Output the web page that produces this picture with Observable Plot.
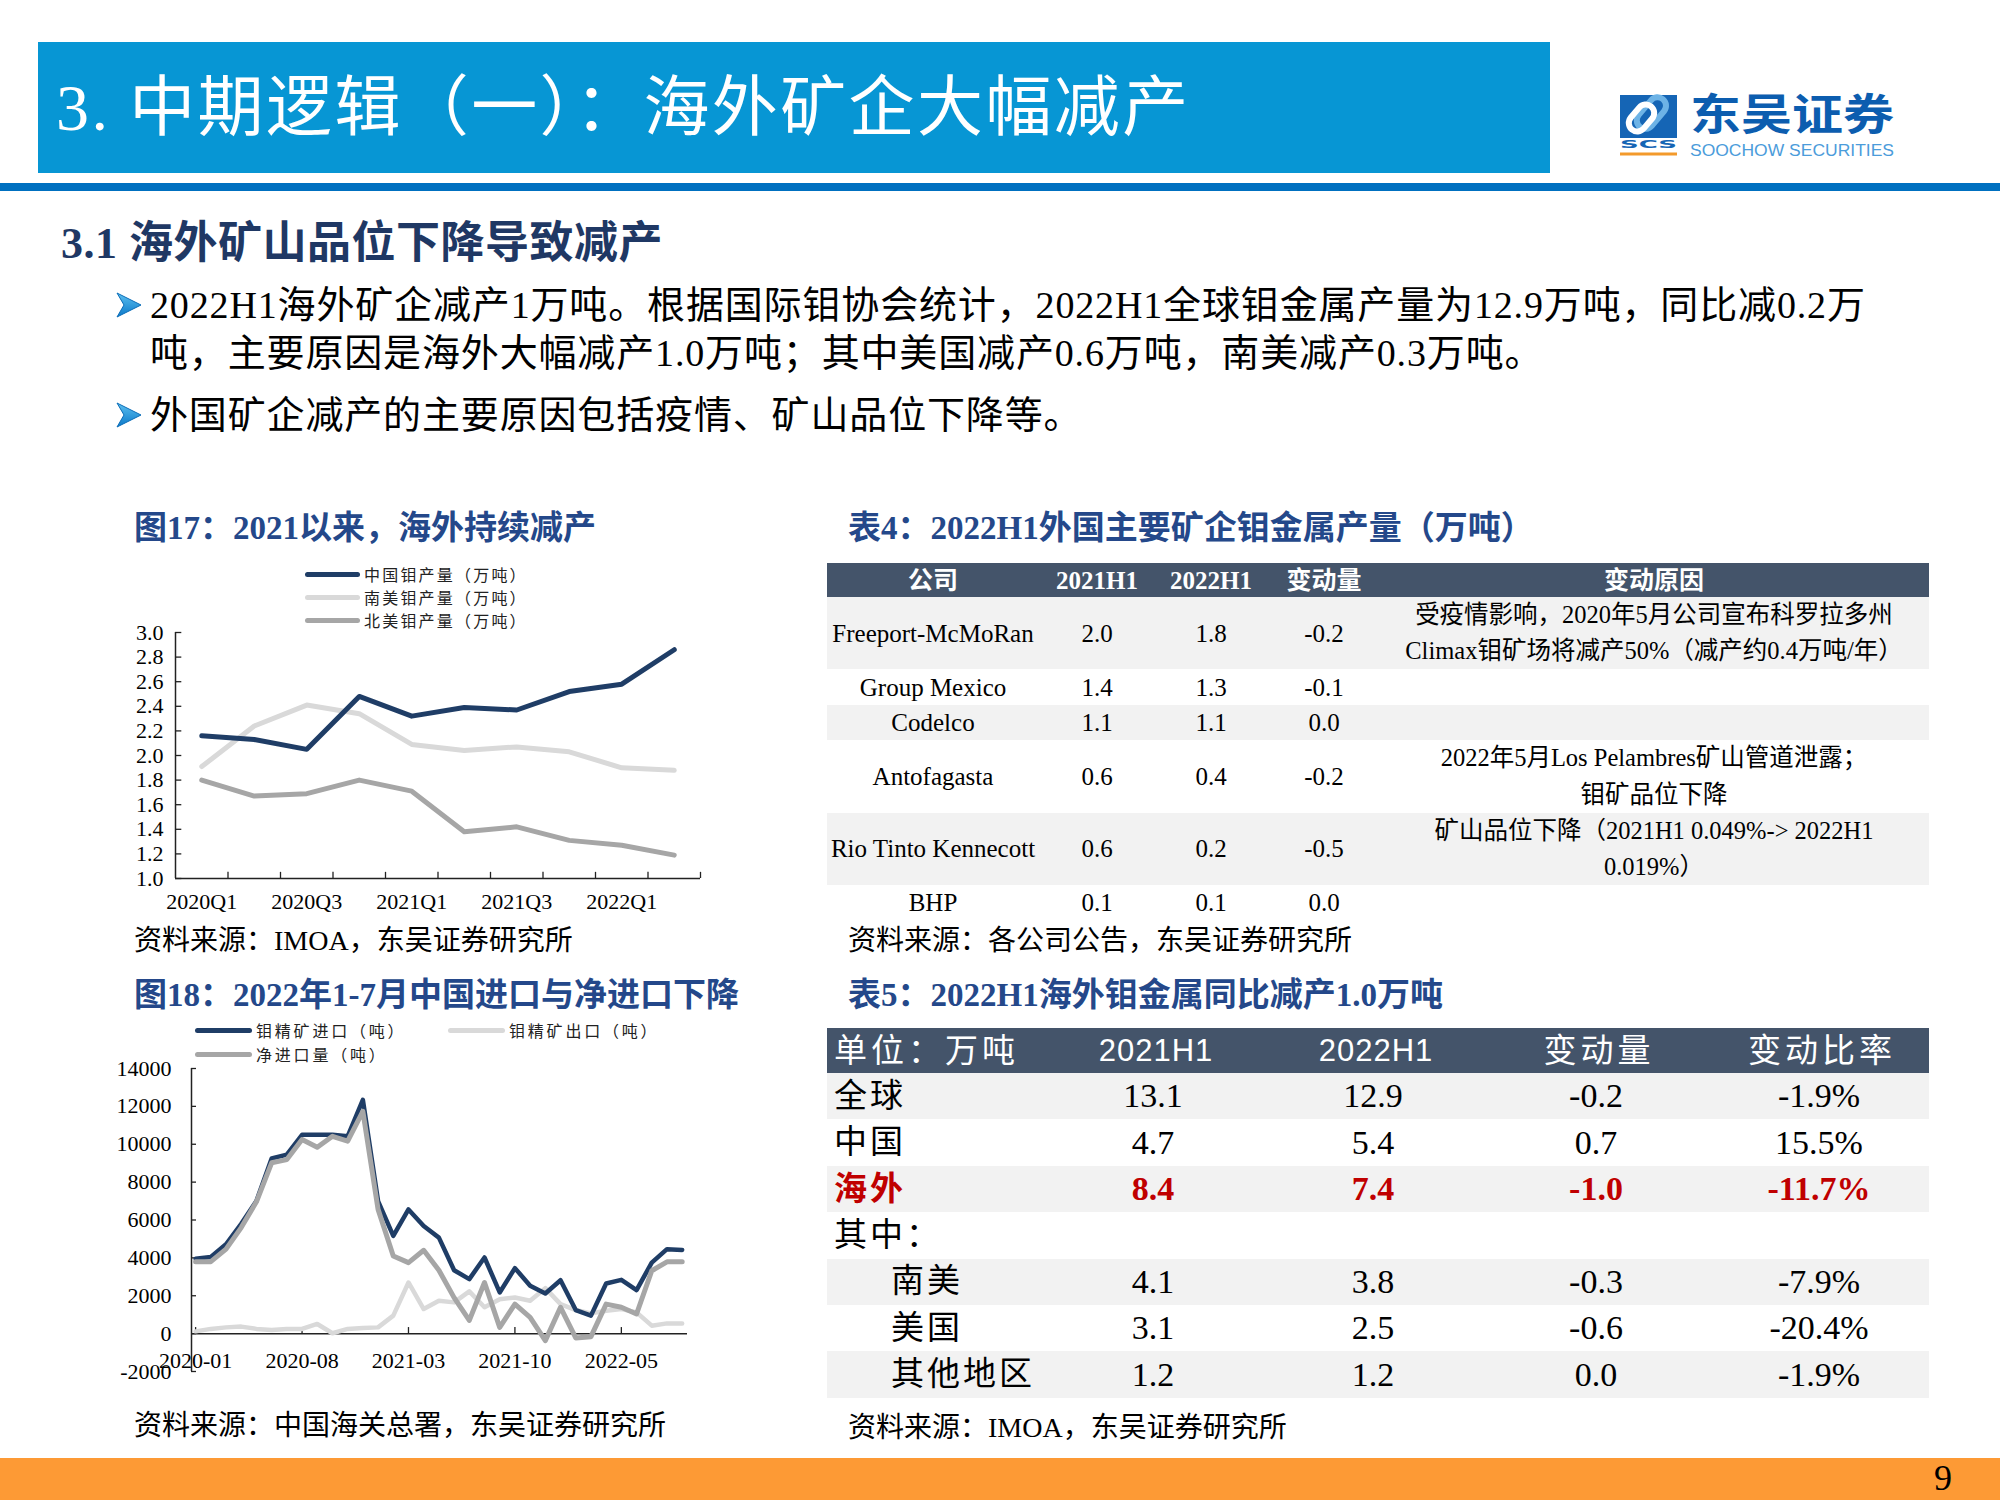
<!DOCTYPE html>
<html><head><meta charset="utf-8">
<script src="https://cdn.jsdelivr.net/npm/d3@7"></script>
<script src="https://cdn.jsdelivr.net/npm/@observablehq/plot@0.6"></script>
<style>
html,body{margin:0;padding:0;background:#fff;}
#page{position:relative;width:2000px;height:1500px;overflow:hidden;background:#fff;font-family:"Liberation Serif","Noto Sans CJK SC",serif;color:#000;}
.abs{position:absolute;white-space:nowrap;}
</style></head><body><div id="page"></div>
<script>
// ---------------- DATA ----------------
const pageTitle = "3. 中期逻辑（一）：海外矿企大幅减产";
const sectionTitle = "3.1 海外矿山品位下降导致减产";
const bulletLines = [
  ["2022H1海外矿企减产1万吨。根据国际钼协会统计，2022H1全球钼金属产量为12.9万吨，同比减0.2万", "吨，主要原因是海外大幅减产1.0万吨；其中美国减产0.6万吨，南美减产0.3万吨。"],
  ["外国矿企减产的主要原因包括疫情、矿山品位下降等。"]
];

// Chart 1
const c1Title = "图17：2021以来，海外持续减产";
const c1Source = "资料来源：IMOA，东吴证券研究所";
const quarters = ["2020Q1","2020Q2","2020Q3","2020Q4","2021Q1","2021Q2","2021Q3","2021Q4","2022Q1","2022Q2"];
const quarterLabelIdx = [0,2,4,6,8];
const c1Series = ["中国钼产量（万吨）","南美钼产量（万吨）","北美钼产量（万吨）"];
const chinaMo   = [2.16,2.13,2.05,2.48,2.32,2.39,2.37,2.52,2.58,2.86];
const southAmMo = [1.91,2.24,2.41,2.34,2.09,2.04,2.07,2.03,1.90,1.88];
const northAmMo = [1.80,1.67,1.69,1.80,1.71,1.38,1.42,1.31,1.27,1.19];
const c1YTicks = [1.0,1.2,1.4,1.6,1.8,2.0,2.2,2.4,2.6,2.8,3.0];

// Chart 2
const c2Title = "图18：2022年1-7月中国进口与净进口下降";
const c2Source = "资料来源：中国海关总署，东吴证券研究所";
const months = ["2020-01","2020-02","2020-03","2020-04","2020-05","2020-06","2020-07","2020-08","2020-09","2020-10","2020-11","2020-12",
  "2021-01","2021-02","2021-03","2021-04","2021-05","2021-06","2021-07","2021-08","2021-09","2021-10","2021-11","2021-12",
  "2022-01","2022-02","2022-03","2022-04","2022-05","2022-06","2022-07","2022-08","2022-09"];
const monthLabelIdx = [0,7,14,21,28];
const c2Series = ["钼精矿进口（吨）","钼精矿出口（吨）","净进口量（吨）"];
const moImport = [3950,4050,4720,5800,7000,9250,9450,10500,10500,10500,10420,12350,7000,5160,6560,5680,5070,3350,2880,4020,2175,3460,2530,2120,2820,1245,950,2650,2840,2300,3750,4460,4420];
const moExport = [120,250,330,370,250,190,250,250,510,20,250,300,330,950,2700,1300,1740,1650,2230,1390,1820,1910,1740,2400,1560,1245,1070,1210,1300,1120,420,540,540];
const moNet    = [3800,3800,4460,5600,6960,9020,9190,10250,9840,10420,10160,11740,6560,4100,3750,4400,3350,1900,700,2700,330,1560,860,-370,1390,-230,-160,1560,1390,1035,3320,3790,3790];
const c2YTicks = [-2000,0,2000,4000,6000,8000,10000,12000,14000];

// Table 4
const t4Title = "表4：2022H1外国主要矿企钼金属产量（万吨）";
const t4Source = "资料来源：各公司公告，东吴证券研究所";
const t4Header = ["公司","2021H1","2022H1","变动量","变动原因"];
const t4Company = ["Freeport-McMoRan","Group Mexico","Codelco","Antofagasta","Rio Tinto Kennecott","BHP"];
const t4V2021 = ["2.0","1.4","1.1","0.6","0.6","0.1"];
const t4V2022 = ["1.8","1.3","1.1","0.4","0.2","0.1"];
const t4Change = ["-0.2","-0.1","0.0","-0.2","-0.5","0.0"];
const t4Reason = [
  ["受疫情影响，2020年5月公司宣布科罗拉多州","Climax钼矿场将减产50%（减产约0.4万吨/年）"],
  [], [],
  ["2022年5月Los Pelambres矿山管道泄露；","钼矿品位下降"],
  ["矿山品位下降（2021H1 0.049%-> 2022H1","0.019%）"],
  []
];

// Table 5
const t5Title = "表5：2022H1海外钼金属同比减产1.0万吨";
const t5Source = "资料来源：IMOA，东吴证券研究所";
const t5Header = ["单位：万吨","2021H1","2022H1","变动量","变动比率"];
const t5Label = ["全球","中国","海外","其中：","南美","美国","其他地区"];
const t5Indent = [0,0,0,0,1,1,1];
const t5V2021 = ["13.1","4.7","8.4","","4.1","3.1","1.2"];
const t5V2022 = ["12.9","5.4","7.4","","3.8","2.5","1.2"];
const t5Change = ["-0.2","0.7","-1.0","","-0.3","-0.6","0.0"];
const t5Rate = ["-1.9%","15.5%","-11.7%","","-7.9%","-20.4%","-1.9%"];
const t5Highlight = 2;
const pageNo = "9";

// ---------------- LAYOUT HELPERS ----------------
const page = document.getElementById("page");
function put(html, css) {
  const d = document.createElement("div");
  d.className = "abs";
  d.innerHTML = html;
  Object.assign(d.style, css);
  page.appendChild(d);
  return d;
}
function textAt(txt, left, cy, size, extra = {}) {
  const lh = Math.round(size * 1.3);
  return put(txt, Object.assign({left: left + "px", top: (cy - lh / 2) + "px", height: lh + "px", lineHeight: lh + "px", fontSize: size + "px"}, extra));
}
function textCenter(txt, cx, cy, size, extra = {}) {
  const w = 700, lh = Math.round(size * 1.3);
  return put(txt, Object.assign({left: (cx - w / 2) + "px", width: w + "px", textAlign: "center", top: (cy - lh / 2) + "px", height: lh + "px", lineHeight: lh + "px", fontSize: size + "px"}, extra));
}

// ---------------- HEADER ----------------
put("", {left: "38px", top: "42px", width: "1512px", height: "131px", background: "#0796D4"});
textAt(pageTitle, 56, 108, 66, {color: "#fff", letterSpacing: "2.4px"});
put("", {left: "0px", top: "183px", width: "2000px", height: "8px", background: "#0070C0"});
put(`<svg width="290" height="96" viewBox="0 0 290 96" style="overflow:visible">
  <rect x="0" y="23" width="57" height="43" fill="#1565B5"/>
  <rect x="20" y="22" width="17" height="36" rx="8.5" transform="rotate(40 28.5 44.5)" fill="none" stroke="#6DB3E6" stroke-width="6"/>
  <rect x="13" y="31" width="17" height="30" rx="8.5" transform="rotate(40 21.5 46)" fill="none" stroke="#fff" stroke-width="6"/>
  <text x="0" y="76" textLength="57" lengthAdjust="spacingAndGlyphs" font-family="DejaVu Sans" font-weight="bold" font-size="11" fill="#1565B5">SCS</text>
  <rect x="0" y="80.5" width="57" height="3" fill="#F39A2B"/>
  <text x="70" y="58" textLength="204" lengthAdjust="spacingAndGlyphs" font-family="Noto Sans CJK SC" font-weight="bold" font-size="43" fill="#0C5DAF">东吴证券</text>
  <text x="70" y="84" textLength="204" lengthAdjust="spacingAndGlyphs" font-family="Liberation Sans" font-size="16" fill="#4B9CDB">SOOCHOW SECURITIES</text>
</svg>`, {left: "1620px", top: "72px"});

// section title and bullets
textAt(sectionTitle, 61, 243, 44, {color: "#1F3864", fontWeight: "bold", letterSpacing: "0.5px"});
const arrowSvg = `<svg width="26" height="26" viewBox="0 0 26 26"><defs><linearGradient id="ag" x1="0" y1="0" x2="0" y2="1"><stop offset="0" stop-color="#5CC0F0"/><stop offset="1" stop-color="#0B78C8"/></linearGradient></defs><polygon points="1,1 25,13 1,25 8,13" fill="url(#ag)" stroke="#0B6DB8" stroke-width="1"/></svg>`;
const bulletCy = [[305, 353], [415]];
bulletLines.forEach((lines, bi) => {
  put(arrowSvg, {left: "116px", top: (bulletCy[bi][0] - 13) + "px", height: "26px"});
  lines.forEach((ln, li) => textAt(ln, 150, bulletCy[bi][li], 38, {letterSpacing: "0.85px"}));
});

// ---------------- CHART TITLES / SOURCES ----------------
const titleColor = "#24488A";
textAt(c1Title, 134, 528, 33, {color: titleColor, fontWeight: "bold"});
textAt(t4Title, 848, 528, 33, {color: titleColor, fontWeight: "bold"});
textAt(c2Title, 134, 995, 33, {color: titleColor, fontWeight: "bold"});
textAt(t5Title, 848, 995, 33, {color: titleColor, fontWeight: "bold"});
textAt(c1Source, 134, 941, 28);
textAt(t4Source, 848, 941, 28);
textAt(c2Source, 134, 1426, 28);
textAt(t5Source, 848, 1428, 28);

// ---------------- LEGENDS ----------------
const c1Colors = ["#1F3D66", "#D9D9D9", "#A6A6A6"];
const c1LegendCy = [574, 597, 620];
c1Series.forEach((s, i) => {
  put("", {left: "305px", top: (c1LegendCy[i] - 2.5) + "px", width: "55px", height: "5px", background: c1Colors[i], borderRadius: "2.5px"});
  textAt(s, 364, c1LegendCy[i], 16, {fontFamily: "Noto Sans CJK SC", color: "#222", lineHeight: "17px", height: "17px", top: (c1LegendCy[i] - 8.5) + "px", letterSpacing: "2.2px"});
});
const c2Colors = ["#1F3D66", "#D9D9D9", "#A6A6A6"];
const c2LegendPos = [[195, 1030], [448, 1030], [195, 1054]];
c2Series.forEach((s, i) => {
  const [lx, cy] = c2LegendPos[i];
  put("", {left: lx + "px", top: (cy - 2.5) + "px", width: "57px", height: "5px", background: c2Colors[i], borderRadius: "2.5px"});
  textAt(s, lx + 61, cy, 16, {fontFamily: "Noto Sans CJK SC", color: "#222", lineHeight: "17px", height: "17px", top: (cy - 8.5) + "px", letterSpacing: "2.8px"});
});

// ---------------- CHART 1 ----------------
const axisColor = "#222";
const lineOpts = {strokeWidth: 5, strokeLinejoin: "round", strokeLinecap: "round"};
const chart1 = Plot.plot({
  width: 620, height: 300,
  marginLeft: 75, marginRight: 20, marginTop: 12, marginBottom: 42,
  style: {fontFamily: "'Liberation Serif', serif", fontSize: "22px", background: "none", color: "#000", overflow: "visible"},
  x: {domain: [-0.5, quarters.length - 0.5], ticks: quarterLabelIdx, tickFormat: i => quarters[i], tickSize: 0, tickPadding: 15, label: null},
  y: {domain: [1.0, 3.0], ticks: c1YTicks, tickFormat: d => d.toFixed(1), tickSize: 0, tickPadding: 12, label: null},
  marks: [
    Plot.ruleX([-0.5], {stroke: axisColor, strokeWidth: 1.5}),
    Plot.ruleY([1.0], {stroke: axisColor, strokeWidth: 1.5}),
    Plot.ruleY(c1YTicks, {y: d => d, x1: -0.5, x2: -0.38, stroke: axisColor, strokeWidth: 1.3}),
    Plot.ruleX(quarters.map((q, i) => i + 0.5), {x: d => d, y1: 1.0, y2: 1.05, stroke: axisColor, strokeWidth: 1.3}),
    Plot.line(southAmMo, {x: (d, i) => i, y: d => d, stroke: c1Colors[1], ...lineOpts}),
    Plot.line(northAmMo, {x: (d, i) => i, y: d => d, stroke: c1Colors[2], ...lineOpts}),
    Plot.line(chinaMo, {x: (d, i) => i, y: d => d, stroke: c1Colors[0], ...lineOpts})
  ]
});
put("", {left: "100px", top: "620px"}).appendChild(chart1);

// ---------------- CHART 2 ----------------
const xMin2 = -0.27, xMax2 = months.length - 1 + 0.35;
const chart2 = Plot.plot({
  width: 640, height: 330,
  marginLeft: 111, marginRight: 33, marginTop: 8, marginBottom: 19,
  style: {fontFamily: "'Liberation Serif', serif", fontSize: "22px", background: "none", color: "#000", overflow: "visible"},
  x: {domain: [xMin2, xMax2], axis: null},
  y: {domain: [-2000, 14000], ticks: c2YTicks, tickFormat: d => String(d), tickSize: 0, tickPadding: 20, label: null},
  marks: [
    Plot.ruleX([xMin2], {y1: -2000, y2: 14000, stroke: axisColor, strokeWidth: 1.5}),
    Plot.ruleY([0], {x1: xMin2, x2: xMax2, stroke: axisColor, strokeWidth: 1.5}),
    Plot.ruleY(c2YTicks, {y: d => d, x1: xMin2, x2: xMin2 + 0.33, stroke: axisColor, strokeWidth: 1.3}),
    Plot.ruleX(monthLabelIdx, {x: d => d, y1: 0, y2: 320, stroke: axisColor, strokeWidth: 1.3}),
    Plot.text(monthLabelIdx, {x: d => d, y: 0, dy: 27, text: i => months[i], fontSize: 22, fill: "#000"}),
    Plot.line(moExport, {x: (d, i) => i, y: d => d, stroke: c2Colors[1], strokeWidth: 4.5, strokeLinejoin: "round", strokeLinecap: "round"}),
    Plot.line(moImport, {x: (d, i) => i, y: d => d, stroke: c2Colors[0], strokeWidth: 4.5, strokeLinejoin: "round", strokeLinecap: "round"}),
    Plot.line(moNet, {x: (d, i) => i, y: d => d, stroke: c2Colors[2], strokeWidth: 5, strokeLinejoin: "round", strokeLinecap: "round"})
  ]
});
put("", {left: "80px", top: "1060px"}).appendChild(chart2);

// ---------------- TABLE 4 ----------------
const t4Left = 827, t4Width = 1102;
const t4Cx = [933, 1097, 1211, 1324, 1654];
put("", {left: t4Left + "px", top: "563px", width: t4Width + "px", height: "34px", background: "#44546A"});
t4Header.forEach((h, j) => textCenter(h, t4Cx[j], 580, 25, {color: "#fff", fontWeight: "bold"}));
let y4 = 597;
t4Company.forEach((c, i) => {
  const nLines = Math.max(1, t4Reason[i].length);
  const h = nLines > 1 ? 72.3 : 35.6;
  if (i % 2 === 0) put("", {left: t4Left + "px", top: y4 + "px", width: t4Width + "px", height: h + "px", background: "#F2F2F2"});
  const cy = y4 + h / 2;
  [c, t4V2021[i], t4V2022[i], t4Change[i]].forEach((v, j) => textCenter(v, t4Cx[j], cy, 25));
  t4Reason[i].forEach((r, k) => textCenter(r, t4Cx[4], cy + (k - (nLines - 1) / 2) * 36.5, 24.5));
  y4 += h;
});

// ---------------- TABLE 5 ----------------
const t5Left = 827, t5Width = 1102;
const t5Cx = [1153, 1373, 1596, 1819];
put("", {left: t5Left + "px", top: "1028px", width: t5Width + "px", height: "45px", background: "#44546A"});
textAt(t5Header[0], 834, 1051, 33, {color: "#fff", letterSpacing: "4px"});
t5Header.slice(1).forEach((h, j) => textCenter(h, t5Cx[j] + 3, 1051, /H1/.test(h) ? 31 : 33,
  /H1/.test(h) ? {color: "#fff", fontFamily: "'Liberation Sans','Noto Sans CJK SC',sans-serif", letterSpacing: "1px"} : {color: "#fff", letterSpacing: "4px"}));
const t5RowH = 46.4;
t5Label.forEach((lab, i) => {
  const top = 1073 + i * t5RowH;
  if (i % 2 === 0) put("", {left: t5Left + "px", top: top + "px", width: t5Width + "px", height: t5RowH + "px", background: "#F2F2F2"});
  const cy = top + t5RowH / 2;
  const hl = i === t5Highlight ? {color: "#C00000", fontWeight: "bold"} : {};
  textAt(lab, t5Indent[i] ? 891 : 834, cy, 33, Object.assign({letterSpacing: "3px"}, hl));
  [t5V2021[i], t5V2022[i], t5Change[i], t5Rate[i]].forEach((v, j) => textCenter(v, t5Cx[j], cy, 34, hl));
});

// ---------------- FOOTER ----------------
put("", {left: "0px", top: "1458px", width: "2000px", height: "42px", background: "#FD9A35"});
textCenter(pageNo, 1943, 1478, 36, {color: "#000"});
</script></body></html>
